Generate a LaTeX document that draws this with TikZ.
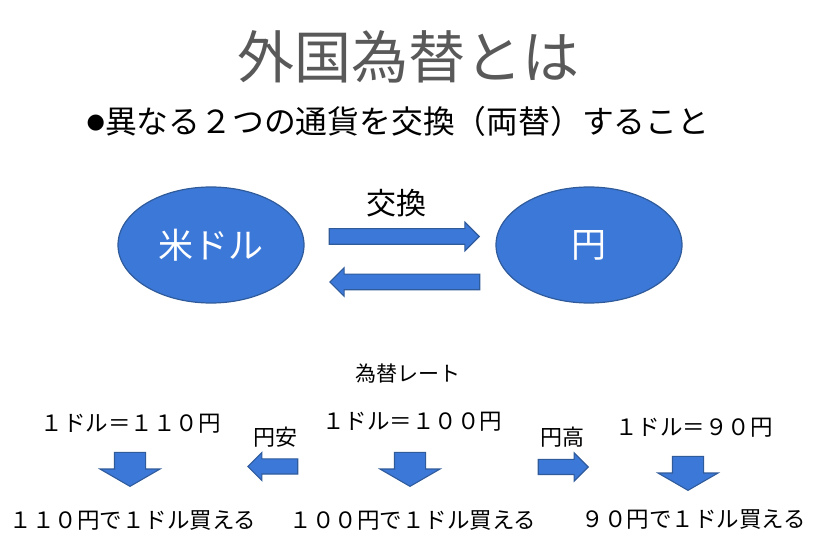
\documentclass[tikz,border=0pt]{standalone}
\usepackage{fontspec}
\setmainfont{Noto Sans CJK JP}
\newfontfamily\symfont{DejaVu Sans}
\usetikzlibrary{shapes.geometric,shapes.arrows}
\definecolor{fillblue}{HTML}{3C78D8}
\definecolor{edgeblue}{HTML}{2F5B9B}
\definecolor{titlegray}{HTML}{595959}
\newcommand{\fs}[1]{\fontsize{#1}{#1}\selectfont}

\begin{document}
\begin{tikzpicture}[x=1pt,y=-1pt,
 curr/.style={ellipse,draw=edgeblue,line width=1.2pt,fill=fillblue,minimum width=186pt,minimum height=116pt,text=white,font=\fs{35}},
 blk/.style={single arrow,fill=fillblue,draw=edgeblue,line width=1.1pt,inner sep=0pt,single arrow head indent=0pt,anchor=tip},
 lbl/.style={inner sep=0pt,font=\fs{22.5}}]
\useasboundingbox (0,0) rectangle (815,545);
\node[text=titlegray,font=\fs{57}] (title) at (408,57) {外国為替とは};
\node[font=\fs{31.8}] (lead) at (398,121) {\raisebox{5pt}{\symfont\fs{21}●}異なる２つの通貨を交換（両替）すること};
\node[curr] (usd) at (211,245) {米ドル};
\node[curr] (jpy) at (589,245) {円};
\node[font=\fs{30}] (xchg) at (396,203) {交換};
\node[blk,minimum height=150pt,single arrow head extend=6.5pt] (toyen) at (480,236.5) {\rule{0pt}{14.5pt}};
\node[blk,minimum height=150pt,single arrow head extend=6.5pt,rotate=180] (tousd) at (329,282) {\rule{0pt}{14.5pt}};
\node[lbl,font=\fs{21}] (rate) at (408,374) {為替レート};
\node[lbl] (r110) at (131,424) {１ドル＝１１０円};
\node[lbl] (r100) at (412,422) {１ドル＝１００円};
\node[lbl] (r90) at (694,428) {１ドル＝９０円};
\node[lbl,font=\fs{22}] (yasu) at (275,437) {円安};
\node[lbl,font=\fs{22}] (taka) at (562,437) {円高};
\node[blk,minimum height=50pt,single arrow head extend=6.5pt,rotate=180] (weak) at (247,466.5) {\rule{0pt}{14pt}};
\node[blk,minimum height=50pt,single arrow head extend=6.5pt] (strong) at (589,467) {\rule{0pt}{14pt}};
\node[blk,minimum height=34pt,single arrow head extend=14.5pt,single arrow tip angle=120,rotate=-90] (d110) at (130,487) {\rule{0pt}{30pt}};
\node[blk,minimum height=34pt,single arrow head extend=14.5pt,single arrow tip angle=120,rotate=-90] (d100) at (410,487) {\rule{0pt}{30pt}};
\node[blk,minimum height=34pt,single arrow head extend=14.5pt,single arrow tip angle=120,rotate=-90] (d90) at (688,491) {\rule{0pt}{30pt}};
\node[lbl] (b110) at (133,521) {１１０円で１ドル買える};
\node[lbl] (b100) at (413,521) {１００円で１ドル買える};
\node[lbl] (b90) at (694,520) {９０円で１ドル買える};
\end{tikzpicture}
\end{document}
